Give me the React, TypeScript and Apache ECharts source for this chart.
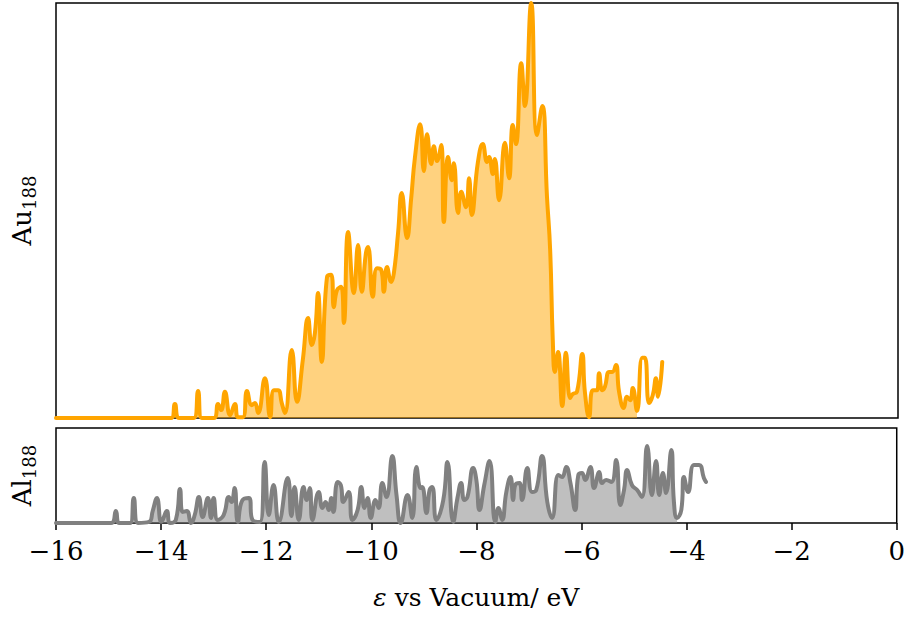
import React, { useEffect, useRef } from "react";
import * as echarts from "echarts";

// Au188 projected DOS (top panel)
const auEnergy = [-16, -13.81, -13.74, -13.66, -13.38, -13.30, -13.23, -13.00, -12.92, -12.86, -12.79, -12.69, -12.60, -12.54, -12.45, -12.37, -12.28, -12.22, -12.16, -12.03, -11.93, -11.86, -11.78, -11.71, -11.65, -11.52, -11.42, -11.31, -11.21, -11.14, -11.08, -11.02, -10.95, -10.85, -10.77, -10.72, -10.66, -10.58, -10.53, -10.45, -10.34, -10.26, -10.19, -10.11, -10.07, -9.98, -9.90, -9.82, -9.77, -9.71, -9.63, -9.58, -9.50, -9.43, -9.33, -9.25, -9.18, -9.08, -9.01, -8.95, -8.87, -8.82, -8.76, -8.68, -8.63, -8.55, -8.48, -8.44, -8.36, -8.30, -8.21, -8.15, -8.10, -7.98, -7.89, -7.81, -7.77, -7.70, -7.66, -7.58, -7.47, -7.39, -7.32, -7.26, -7.16, -7.09, -6.97, -6.86, -6.76, -6.67, -6.61, -6.56, -6.52, -6.46, -6.38, -6.31, -6.23, -6.18, -6.10, -6.00, -5.95, -5.87, -5.80, -5.72, -5.68, -5.62, -5.57, -5.49, -5.43, -5.36, -5.30, -5.21, -5.15, -5.09, -5.04, -4.96, -4.86, -4.81, -4.73, -4.66, -4.60, -4.56, -4.48];
const auDos = [0, 0, 3.4, 0, 0, 6.5, 0, 0, 3.4, 1.9, 6.3, 0.7, 3.4, 0.2, 0.2, 6.5, 3.1, 3.6, 1.2, 9.6, 0.2, 6.7, 6.7, 3.6, 1.2, 16.4, 3.9, 14.0, 24.1, 17.6, 20.5, 30.1, 13.5, 34.0, 34.5, 26.7, 30.8, 31.6, 22.9, 44.8, 30.1, 41.7, 30.4, 39.8, 41.2, 29.2, 36.1, 35.7, 30.4, 36.4, 32.8, 34.9, 44.6, 54.2, 43.4, 53.0, 62.7, 70.8, 59.5, 68.4, 61.2, 65.5, 61.9, 65.8, 47.2, 62.9, 57.3, 61.4, 49.4, 54.5, 50.8, 57.8, 48.9, 61.9, 66.0, 61.7, 62.9, 58.8, 62.4, 52.5, 66.3, 57.8, 70.6, 66.0, 85.5, 75.2, 100, 68.2, 75.2, 53.3, 40.5, 18.8, 11.1, 15.9, 2.9, 15.7, 4.8, 5.8, 6.3, 15.4, 6.3, 0.2, 6.7, 6.7, 10.8, 6.7, 7.5, 11.1, 11.1, 12.8, 6.3, 2.4, 5.1, 4.3, 7.2, 1.7, 14.5, 14.5, 3.6, 5.5, 9.6, 5.1, 13.5];
const auFillEnd = -4.96;

// Al188 projected DOS (bottom panel)
const alEnergy = [-16, -14.95, -14.86, -14.80, -14.59, -14.52, -14.44, -14.23, -14.16, -14.08, -14.00, -13.97, -13.89, -13.83, -13.72, -13.64, -13.59, -13.51, -13.43, -13.36, -13.28, -13.21, -13.11, -13.05, -13.00, -12.92, -12.81, -12.71, -12.66, -12.60, -12.54, -12.45, -12.33, -12.26, -12.12, -12.03, -11.95, -11.86, -11.76, -11.59, -11.52, -11.46, -11.38, -11.29, -11.23, -11.17, -11.12, -11.00, -10.93, -10.87, -10.81, -10.76, -10.72, -10.64, -10.58, -10.53, -10.43, -10.36, -10.26, -10.19, -10.13, -10.07, -10.01, -9.92, -9.86, -9.79, -9.71, -9.60, -9.52, -9.44, -9.31, -9.22, -9.14, -9.06, -9.03, -8.95, -8.89, -8.84, -8.76, -8.63, -8.55, -8.44, -8.36, -8.29, -8.23, -8.17, -8.06, -8.00, -7.94, -7.85, -7.75, -7.64, -7.58, -7.51, -7.43, -7.35, -7.30, -7.26, -7.18, -7.13, -7.03, -6.94, -6.86, -6.75, -6.65, -6.56, -6.44, -6.37, -6.29, -6.21, -6.12, -6.06, -5.99, -5.93, -5.83, -5.76, -5.66, -5.61, -5.53, -5.43, -5.34, -5.26, -5.19, -5.13, -5.04, -4.94, -4.85, -4.75, -4.66, -4.58, -4.52, -4.45, -4.39, -4.29, -4.24, -4.18, -4.10, -4.05, -3.97, -3.86, -3.76, -3.67, -3.63];
const alDos = [0, 0, 12.6, 0, 0, 26.3, 0, 1.1, 12.6, 26.3, 1.1, 3.2, 12.6, 0, 3.2, 35.8, 11.6, 12.6, 0, 8.4, 27.4, 6.3, 26.3, 5.3, 26.3, 3.2, 8.4, 27.4, 22.1, 36.8, 1.1, 24.2, 26.3, 3.2, 1.1, 64.2, 8.4, 40.0, 1.1, 47.4, 7.4, 37.9, 3.2, 37.9, 24.2, 36.8, 3.2, 32.6, 15.8, 22.1, 13.7, 26.3, 11.6, 43.2, 40.0, 22.1, 32.6, 3.2, 13.7, 37.9, 15.8, 26.3, 5.3, 24.2, 15.8, 42.1, 27.4, 70.5, 29.5, 0, 29.5, 5.3, 58.9, 36.8, 37.9, 10.5, 34.7, 37.9, 3.2, 24.2, 64.2, 1.1, 26.3, 42.1, 24.2, 27.4, 57.9, 45.3, 13.7, 40.0, 65.3, 1.1, 15.8, 3.2, 32.6, 48.4, 24.2, 40.0, 42.1, 24.2, 57.9, 32.6, 34.7, 70.5, 22.1, 5.3, 50.5, 48.4, 58.9, 42.1, 13.7, 50.5, 52.6, 45.3, 58.9, 36.8, 53.7, 42.1, 45.3, 43.2, 66.3, 18.9, 34.7, 55.8, 40.0, 34.7, 27.4, 81.1, 29.5, 65.3, 29.5, 52.6, 31.6, 76.8, 22.1, 5.3, 13.7, 48.4, 32.6, 61.1, 61.1, 47.4, 43.2];
const alFillEnd = -4.18;

const xMin = -16;
const xMax = 0;
const xStep = 2;

const FONT = "DejaVu Serif";

function pairs(xs: number[], ys: number[], limit?: number) {
  const out: number[][] = [];
  for (let i = 0; i < xs.length; i++) {
    if (limit === undefined || xs[i] <= limit) out.push([xs[i], ys[i]]);
  }
  return out;
}

export default function App() {
  const ref = useRef<HTMLDivElement>(null);

  useEffect(() => {
    if (!ref.current) return;
    const chart = echarts.init(ref.current, null, { renderer: "svg" });
    const smooth = 0.5;
    const axisBase = {
      type: "value" as const,
      min: xMin,
      max: xMax,
      interval: xStep,
      splitLine: { show: false },
      axisLine: { show: false },
    };
    const yBase = {
      type: "value" as const,
      min: 0,
      max: 100,
      axisLabel: { show: false },
      axisTick: { show: false },
      axisLine: { show: false },
      splitLine: { show: false },
      nameLocation: "middle" as const,
      nameRotate: 90,
      nameGap: 18,
      nameTextStyle: {
        fontFamily: FONT,
        fontSize: 26,
        color: "#000",
        rich: {
          m: { fontFamily: FONT, fontSize: 26, color: "#000" },
          s: { fontFamily: FONT, fontSize: 18, color: "#000", padding: [14, 0, 0, 0] },
        },
      },
    };
    chart.setOption({
      animation: false,
      backgroundColor: "#fff",
      grid: [
        { left: 56, top: 3, width: 842, height: 415, show: true, borderColor: "#000", borderWidth: 1.5, backgroundColor: "transparent" },
        { left: 56, top: 428, width: 842, height: 95, show: true, borderColor: "#000", borderWidth: 1.5, backgroundColor: "transparent" },
      ],
      xAxis: [
        { ...axisBase, gridIndex: 0, axisLabel: { show: false }, axisTick: { show: false } },
        {
          ...axisBase,
          gridIndex: 1,
          axisTick: { show: true, inside: false, length: 7, lineStyle: { color: "#000", width: 1.5 } },
          axisLabel: {
            show: true,
            color: "#000",
            fontFamily: FONT,
            fontSize: 26,
            margin: 15,
            formatter: (v: number) => String(v).replace("-", "\u2212"),
          },
          name: "{e|\u03b5} vs Vacuum/ eV",
          nameLocation: "middle",
          nameGap: 62,
          nameTextStyle: {
            fontFamily: FONT,
            fontSize: 25,
            color: "#000",
            rich: { e: { fontFamily: FONT, fontSize: 25, fontStyle: "italic", color: "#000" } },
          },
        },
      ],
      yAxis: [
        { ...yBase, gridIndex: 0, name: "{m|Au}{s|188}" },
        { ...yBase, gridIndex: 1, name: "{m|Al}{s|188}" },
      ],
      series: [
        {
          type: "line",
          xAxisIndex: 0,
          yAxisIndex: 0,
          data: pairs(auEnergy, auDos, auFillEnd),
          smooth,
          showSymbol: false,
          lineStyle: { width: 0 },
          areaStyle: { color: "rgba(255,165,0,0.5)", opacity: 1 },
          z: 1,
        },
        {
          type: "line",
          xAxisIndex: 0,
          yAxisIndex: 0,
          data: pairs(auEnergy, auDos),
          smooth,
          showSymbol: false,
          lineStyle: { width: 4, color: "#FFA500", join: "round", cap: "round" },
          z: 2,
        },
        {
          type: "line",
          xAxisIndex: 1,
          yAxisIndex: 1,
          data: pairs(alEnergy, alDos, alFillEnd),
          smooth,
          showSymbol: false,
          lineStyle: { width: 0 },
          areaStyle: { color: "rgba(128,128,128,0.5)", opacity: 1 },
          z: 1,
        },
        {
          type: "line",
          xAxisIndex: 1,
          yAxisIndex: 1,
          data: pairs(alEnergy, alDos),
          smooth,
          showSymbol: false,
          lineStyle: { width: 4, color: "#808080", join: "round", cap: "round" },
          z: 2,
        },
      ],
    });
    return () => chart.dispose();
  }, []);

  return <div ref={ref} style={{ width: 908, height: 619, position: "absolute", left: 0, top: 0 }} />;
}
